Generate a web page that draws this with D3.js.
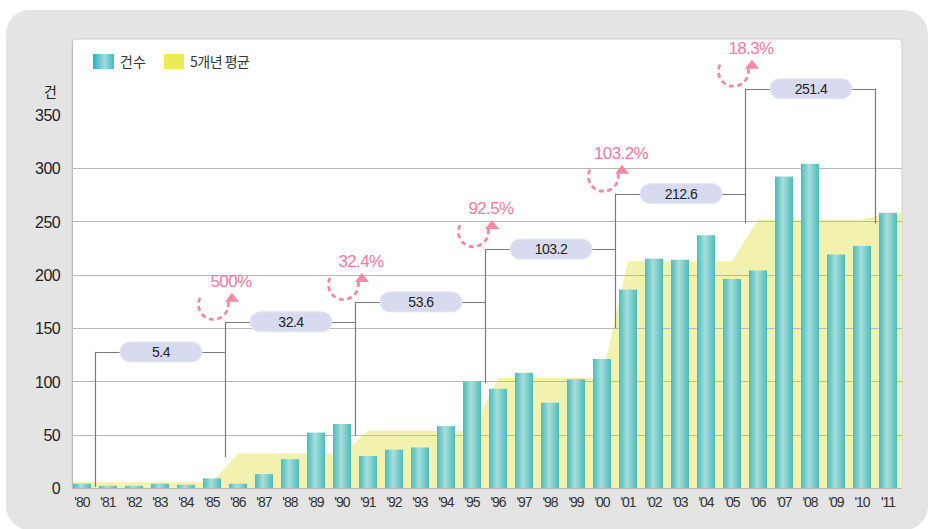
<!DOCTYPE html>
<html><head><meta charset="utf-8">
<script src="https://cdn.jsdelivr.net/npm/d3@7"></script>
<style>
html,body{margin:0;padding:0;background:#fff;}
svg{display:block;font-family:"Liberation Sans",Arial,"Noto Sans CJK KR",sans-serif;}
</style></head>
<body>
<svg id="chart" width="946" height="529"></svg>
<script>
// ---- data ----
const years = ["'80","'81","'82","'83","'84","'85","'86","'87","'88","'89","'90","'91","'92","'93","'94","'95","'96","'97","'98","'99","'00","'01","'02","'03","'04","'05","'06","'07","'08","'09","'10","'11"];
const counts = [4,2,2,4,3,9,4,13,27,52,60,30,36,38,58,100,93,108,80,102,121,186,215,214,237,196,204,292,304,219,227,258];
// 5-year average level (yellow area) per year
const avgLevel = [5.4,5.4,5.4,5.4,5.4,5.4,32.4,32.4,32.4,32.4,32.4,53.6,53.6,53.6,53.6,53.6,103.2,103.2,103.2,103.2,103.2,212.6,212.6,212.6,212.6,212.6,251.4,251.4,251.4,251.4,251.4,258];
// bracket groups (first year index .. last year index) and labels
const groupStart = [1,6,11,16,21,26];
const groupEnd = [5,10,15,20,25,30];
const groupLabels = ["5.4","32.4","53.6","103.2","212.6","251.4"];
const bracketLevel = [127.6,155.8,174.5,224,276,374.4];
const dropLevel = [1,29,49,98,150,248,248];
const growthLabels = ["500%","32.4%","92.5%","103.2%","18.3%"];
const yTicks = [0,50,100,150,200,250,300,350];
const gridTicks = [0,50,100,150,200,250,300];
const legendLabels = ["건수","5개년 평균"];

// ---- chart ----
const svg = d3.select("#chart");
const defs = svg.append("defs");
const g1 = defs.append("linearGradient").attr("id","barGrad").attr("x1","0%").attr("x2","100%");
g1.append("stop").attr("offset","0%").attr("stop-color","#4bbcba");
g1.append("stop").attr("offset","45%").attr("stop-color","#a8dedd");
g1.append("stop").attr("offset","100%").attr("stop-color","#4bbcba");
const g2 = defs.append("linearGradient").attr("id","legGrad").attr("x1","0%").attr("x2","100%");
g2.append("stop").attr("offset","0%").attr("stop-color","#22b3c8");
g2.append("stop").attr("offset","55%").attr("stop-color","#a6dada");
g2.append("stop").attr("offset","100%").attr("stop-color","#3cbcc6");

// backgrounds
svg.append("rect").attr("x",6).attr("y",10).attr("width",922).attr("height",520).attr("rx",24).attr("fill","#e4e4e4");
const plotL = 72, plotR = 902, plotT = 39, plotB = 488;
svg.append("rect").attr("x",plotL).attr("y",plotT).attr("width",plotR-plotL).attr("height",plotB-plotT)
  .attr("rx",4).attr("fill","#fff").attr("stroke","#cdcdcd").attr("stroke-width",1);

const x = d3.scaleBand().domain(years).range([69,901]).paddingInner(0.3077).paddingOuter(0.1538);
const y = d3.scaleLinear().domain([0,350]).range([488,114.7]);
const cx = d => x(d) + x.bandwidth()/2;
const bw = x.step();

// yellow area
const areaPts = [];
areaPts.push([plotL, avgLevel[0]]);
years.forEach((yr,i)=>areaPts.push([cx(yr), avgLevel[i]]));
areaPts.push([plotR, avgLevel[avgLevel.length-1]]);
const area = d3.area().x(d=>d[0]).y0(y(0)).y1(d=>y(d[1]));
svg.append("path").datum(areaPts).attr("d",area).attr("fill","#f2f2ae");

// gridlines
svg.append("g").selectAll("line").data(gridTicks).join("line")
  .attr("x1",plotL).attr("x2",plotR).attr("y1",d=>Math.round(y(d))+0.5).attr("y2",d=>Math.round(y(d))+0.5)
  .attr("stroke","#b8b8b8").attr("stroke-width",1.2);

// bars
svg.append("g").selectAll("rect").data(counts).join("rect")
  .attr("x",(d,i)=>x(years[i])).attr("width",x.bandwidth())
  .attr("y",d=>y(d)).attr("height",d=>y(0)-y(d)).attr("fill","url(#barGrad)");

// left axis line
svg.append("line").attr("x1",plotL+0.5).attr("x2",plotL+0.5).attr("y1",plotT+3).attr("y2",plotB).attr("stroke","#bdbdbd");

// y axis labels
const yAxis = d3.axisLeft(y).tickValues(yTicks).tickSize(0).tickPadding(0).tickFormat(d3.format("d"));
const ya = svg.append("g").attr("transform","translate(60,0)").call(yAxis);
ya.select(".domain").remove();
ya.selectAll("text").attr("font-size",16).attr("fill","#222").attr("letter-spacing","-0.6")
  .attr("font-family","Liberation Sans, Arial, sans-serif").attr("dy","0.36em");
svg.append("text").attr("x",57).attr("y",97).attr("text-anchor","end").attr("font-size",14)
  .attr("fill","#222").attr("font-family","Noto Sans CJK KR").text("건");

// x axis labels
const xAxis = d3.axisBottom(x).tickSize(0).tickPadding(0);
const xa = svg.append("g").attr("transform","translate(0,497)").call(xAxis);
xa.select(".domain").remove();
xa.selectAll("text").attr("font-size",14).attr("fill","#333").attr("letter-spacing","-1")
  .attr("font-family","Liberation Sans, Arial, sans-serif").attr("dy","0.71em");

// brackets
const boundaryX = i => x(years[i]) - (bw - x.bandwidth())/2; // boundary before year index i
const boundaries = groupStart.map(s=>boundaryX(s)).concat([boundaryX(groupEnd[groupEnd.length-1]+1)]);
const bg = svg.append("g");
groupStart.forEach((s,k)=>{
  const xl = boundaries[k], xr = boundaries[k+1], yy = Math.round(y(bracketLevel[k]))+0.5;
  bg.append("line").attr("x1",xl).attr("x2",xr+1).attr("y1",yy).attr("y2",yy).attr("stroke","#7a7a7a").attr("stroke-width",1.2);
});
boundaries.forEach((bx,k)=>{
  const top = k < bracketLevel.length ? bracketLevel[k] : bracketLevel[bracketLevel.length-1];
  bg.append("line").attr("x1",Math.round(bx)+0.5).attr("x2",Math.round(bx)+0.5)
    .attr("y1",y(top)).attr("y2",y(dropLevel[k])).attr("stroke","#7a7a7a").attr("stroke-width",1.2);
});
groupStart.forEach((s,k)=>{
  const mx = (boundaries[k]+boundaries[k+1])/2 + 1, yy = y(bracketLevel[k]);
  bg.append("rect").attr("x",mx-41).attr("y",yy-10).attr("width",82).attr("height",20).attr("rx",10)
    .attr("fill","#d8dbef").attr("stroke","#e4e6f5");
  bg.append("text").attr("x",mx).attr("y",yy+5).attr("text-anchor","middle").attr("font-size",14)
    .attr("fill","#222").attr("letter-spacing","-0.5").text(groupLabels[k]);
});

// growth annotations
growthLabels.forEach((lab,k)=>{
  const tx = boundaries[k+1] + 6;
  const by = y(bracketLevel[k+1]) - 35;
  const ag = svg.append("g");
  ag.append("path").attr("d",`M${tx-31},${by+11} A15,15 0 1 0 ${tx-3},${by+14}`)
    .attr("fill","none").attr("stroke","#f28aa3").attr("stroke-width",2.8).attr("stroke-dasharray","5 3.5");
  ag.append("path").attr("d",`M${tx+1},${by+6} L${tx+8},${by+15} L${tx-6},${by+15} Z`).attr("fill","#f28aa3");
  ag.append("text").attr("x",tx).attr("y",by).attr("text-anchor","middle").attr("font-size",17)
    .attr("letter-spacing","-0.6").attr("fill","#f27aa2").text(lab);
});

// legend
const lg = svg.append("g");
lg.append("rect").attr("x",93).attr("y",54).attr("width",21).attr("height",15).attr("fill","url(#legGrad)");
lg.append("text").attr("x",120).attr("y",67).attr("font-size",14).attr("fill","#333")
  .attr("font-family","Noto Sans CJK KR").text(legendLabels[0]);
lg.append("rect").attr("x",164).attr("y",54).attr("width",20).attr("height",15).attr("fill","#ecea55");
lg.append("text").attr("x",190).attr("y",67).attr("font-size",14).attr("fill","#333")
  .attr("font-family","Noto Sans CJK KR").attr("letter-spacing","-0.5").text(legendLabels[1]);
</script>
</body></html>
